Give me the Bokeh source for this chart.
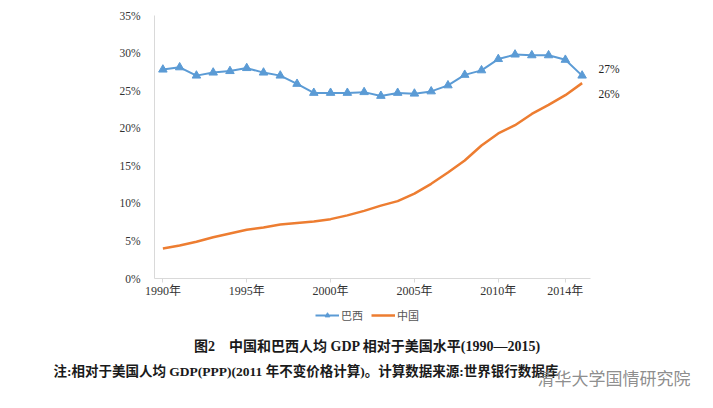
from bokeh.plotting import figure
from bokeh.layouts import column
from bokeh.models import (Legend, LegendItem, Label, Range1d, FixedTicker,
                          LinearAxis)
from bokeh.embed import file_html
from bokeh.resources import INLINE

years = list(range(1990, 2016))
brazil = [27.8, 28.1, 27.0, 27.4, 27.6, 28.0, 27.4, 27.0, 25.9, 24.7,
          24.7, 24.7, 24.8, 24.3, 24.7, 24.6, 24.9, 25.7, 27.1, 27.7,
          29.2, 29.8, 29.7, 29.7, 29.1, 27.0]
china = [4.0, 4.4, 4.9, 5.5, 6.0, 6.5, 6.8, 7.2, 7.4, 7.6,
         7.9, 8.4, 9.0, 9.7, 10.3, 11.3, 12.6, 14.1, 15.7, 17.7,
         19.3, 20.4, 21.9, 23.1, 24.4, 26.0]
x_tick_years = [1990, 1995, 2000, 2005, 2010, 2014]
y_ticks = [0, 5, 10, 15, 20, 25, 30, 35]
series_names = ["巴西", "中国"]
end_labels = ["27%", "26%"]
title_text = "图2　中国和巴西人均 GDP 相对于美国水平(1990—2015)"
note_text = "注:相对于美国人均 GDP(PPP)(2011 年不变价格计算)。计算数据来源:世界银行数据库"
watermark_text = "清华大学国情研究院"

SERIF = "'Liberation Serif', 'Noto Sans CJK SC'"
CJK = "'Noto Sans CJK SC'"
BLUE = "#5b9bd5"
ORANGE = "#ed7d31"
W, H_TOP, H_BOT = 713, 300, 108
NAN = float("nan")

# ---------------- main chart ----------------
p = figure(width=W, height=H_TOP, output_backend="svg", toolbar_location=None,
           x_range=Range1d(1989.5, 2015.5), y_range=Range1d(0, 35),
           min_border_left=154, min_border_right=123, min_border_top=15,
           min_border_bottom=22)
p.frame_align = False
p.outline_line_color = None
p.xgrid.visible = False
p.ygrid.visible = False

p.yaxis.ticker = FixedTicker(ticks=y_ticks)
p.yaxis.major_label_overrides = {t: f"{t}%" for t in y_ticks}
p.yaxis.axis_line_color = "#d9d9d9"
p.yaxis.major_tick_line_color = None
p.yaxis.minor_tick_line_color = None
p.yaxis.major_label_text_font = SERIF
p.yaxis.major_label_text_font_size = "11.5px"
p.yaxis.major_label_text_color = "#333333"
p.yaxis.major_label_standoff = 8

p.xaxis.ticker = FixedTicker(ticks=x_tick_years)
p.xaxis.major_label_overrides = {t: f"{t}年" for t in x_tick_years}
p.xaxis.axis_line_color = "#d9d9d9"
p.xaxis.major_tick_line_color = "#d9d9d9"
p.xaxis.major_tick_in = 0
p.xaxis.major_tick_out = 4
p.xaxis.minor_tick_line_color = None
p.xaxis.major_label_text_font = SERIF
p.xaxis.major_label_text_font_size = "12px"
p.xaxis.major_label_text_color = "#333333"
p.xaxis.major_label_standoff = 1

bl = p.line(years, brazil, line_color=BLUE, line_width=2)
bm = p.scatter(years, brazil, marker="triangle", size=8.5, fill_color=BLUE,
               line_color=BLUE)
cl = p.line(years, china, line_color=ORANGE, line_width=2.5)

# end-value labels on a right-hand axis (no line, no ticks)
end_pos = [brazil[-1] + 0.9, china[-1] - 1.4]
right = LinearAxis(ticker=FixedTicker(ticks=end_pos),
                   major_label_overrides={end_pos[0]: end_labels[0],
                                          end_pos[1]: end_labels[1]},
                   axis_line_color=None, major_tick_line_color=None,
                   minor_tick_line_color=None, major_label_standoff=2,
                   major_label_text_font=SERIF,
                   major_label_text_font_size="11.5px",
                   major_label_text_color="#222222")
p.add_layout(right, "right")

# ---------------- caption area ----------------
q = figure(width=W, height=H_BOT, output_backend="svg", toolbar_location=None,
           x_range=Range1d(0, W), y_range=Range1d(0, H_BOT),
           min_border=0, min_border_left=0, min_border_right=0,
           min_border_top=0, min_border_bottom=0)
q.frame_align = False
q.axis.visible = False
q.grid.visible = False
q.outline_line_color = None

# legend-only renderers (NaN data, nothing drawn in the plot area)
dl = q.line([NAN], [NAN], line_color=BLUE, line_width=2)
dm = q.scatter([NAN], [NAN], marker="triangle", size=6, fill_color=BLUE,
               line_color=BLUE)
dc = q.line([NAN], [NAN], line_color=ORANGE, line_width=2.5)
legend = Legend(items=[LegendItem(label=series_names[0], renderers=[dl, dm]),
                       LegendItem(label=series_names[1], renderers=[dc])],
                orientation="horizontal", location=(315, 85),
                padding=0, margin=0, spacing=8, glyph_width=24, glyph_height=12,
                label_height=12, label_standoff=2,
                label_text_font=CJK, label_text_font_size="11px",
                label_text_color="#555555",
                border_line_color=None, background_fill_alpha=0)
q.add_layout(legend, "center")

q.add_layout(Label(x=367, y=62, text=title_text, text_align="center",
                   text_baseline="middle", text_font=SERIF,
                   text_font_size="14px", text_font_style="bold",
                   text_color="#1a1a1a"))
q.add_layout(Label(x=53, y=37, text=note_text, text_align="left",
                   text_baseline="middle", text_font=SERIF,
                   text_font_size="13.5px", text_font_style="bold",
                   text_color="#1a1a1a"))
q.add_layout(Label(x=537, y=31, text=watermark_text, text_align="left",
                   text_baseline="middle", text_font=CJK,
                   text_font_size="17px", text_color="#808080",
                   text_alpha=0.9))

layout = column(p, q, spacing=0)
open("out.html", "w").write(file_html(layout, INLINE))
